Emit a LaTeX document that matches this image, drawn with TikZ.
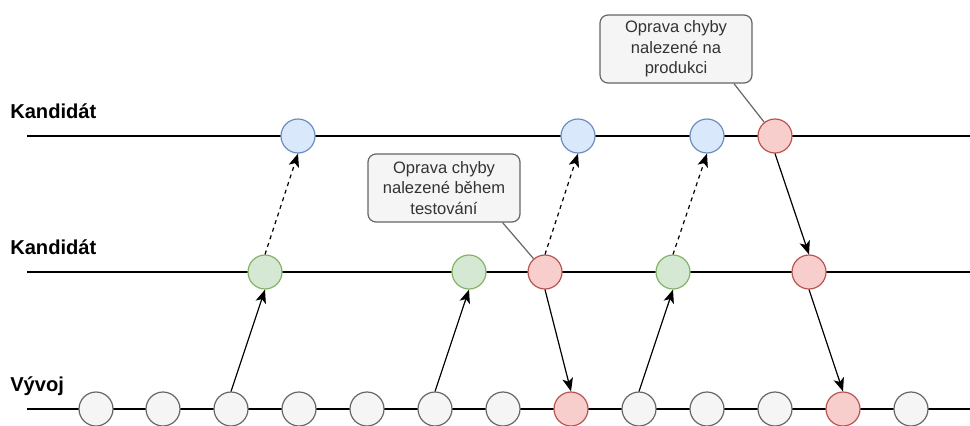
\documentclass[tikz,border=0pt]{standalone}
\usepackage{fontspec}
\setmainfont{Liberation Sans}
\usetikzlibrary{arrows.meta}
\definecolor{grayfill}{HTML}{F5F5F5}
\definecolor{graydraw}{HTML}{666666}
\definecolor{bluefill}{HTML}{DAE8FC}
\definecolor{bluedraw}{HTML}{6C8EBF}
\definecolor{greenfill}{HTML}{D5E8D4}
\definecolor{greendraw}{HTML}{82B366}
\definecolor{redfill}{HTML}{F8CECC}
\definecolor{reddraw}{HTML}{B85450}
\definecolor{notetext}{HTML}{333333}
\tikzset{
  commit/.style={circle, minimum size=25.5pt, inner sep=0pt, line width=0.9pt},
  devc/.style={commit, fill=grayfill, draw=graydraw},
  candc/.style={commit, fill=greenfill, draw=greendraw},
  relc/.style={commit, fill=bluefill, draw=bluedraw},
  fixc/.style={commit, fill=redfill, draw=reddraw},
  branch/.style={line width=0.9pt, black},
  lanelabel/.style={anchor=base west, inner sep=0pt, font=\fontsize{15.1pt}{18pt}\selectfont\bfseries},
  note/.style={draw=graydraw, fill=grayfill, text=notetext, rounded corners=6pt, line width=0.9pt,
    minimum width=114pt, minimum height=51pt, align=center, inner sep=2pt,
    font=\fontsize{12.4pt}{15.5pt}\selectfont},
  notelink/.style={draw=graydraw, line width=0.9pt},
  merge/.style={line width=0.9pt, -{Stealth[length=10pt, width=8pt, inset=2.5pt]}},
  promote/.style={merge, dash pattern=on 3pt off 3pt},
}
\begin{document}
\begin{tikzpicture}[x=0.75pt, y=-0.75pt]
\useasboundingbox (0,0) rectangle (970,425);

% branch lines
\coordinate (t0) at (27,136);  \coordinate (t1) at (970,136);
\coordinate (m0) at (27,272);  \coordinate (m1) at (970,272);
\coordinate (b0) at (27,409);  \coordinate (b1) at (970,409);
\coordinate (bs) at (402,409); \coordinate (be) at (758,409);
\draw[branch] (t0) -- (t1);
\draw[branch] (m0) -- (m1);
\draw[branch] (b0) -- (b1);
\draw[line width=1.6pt] (bs) -- (be);

% lane labels
\node[lanelabel] (l1) at (10,118) {Kandidát};
\node[lanelabel] (l2) at (10,254.5) {Kandidát};
\node[lanelabel] (l3) at (10,391) {Vývoj};

% development commits
\node[devc] (d1) at (96,409) {};
\node[devc] (d2) at (163,409) {};
\node[devc] (d3) at (231,409) {};
\node[devc] (d4) at (299,409) {};
\node[devc] (d5) at (367,409) {};
\node[devc] (d6) at (435,409) {};
\node[devc] (d7) at (503,409) {};
\node[fixc] (d8) at (571,409) {};
\node[devc] (d9) at (639,409) {};
\node[devc] (d10) at (707,409) {};
\node[devc] (d11) at (775,409) {};
\node[fixc] (d12) at (843,409) {};
\node[devc] (d13) at (911,409) {};

% candidate commits
\node[candc] (c1) at (265,272) {};
\node[candc] (c2) at (469,272) {};
\node[fixc]  (c3) at (545,272) {};
\node[candc] (c4) at (673,272) {};
\node[fixc]  (c5) at (809,272) {};

% release commits
\node[relc] (r1) at (298,136) {};
\node[relc] (r2) at (578,136) {};
\node[relc] (r3) at (707,136) {};
\node[fixc] (r4) at (775,136) {};

% merges between lanes
\draw[merge] (d3.north) -- (c1.south);
\draw[merge] (d6.north) -- (c2.south);
\draw[merge] (c3.south) -- (d8.north);
\draw[merge] (d9.north) -- (c4.south);
\draw[merge] (r4.south) -- (c5.north);
\draw[merge] (c5.south) -- (d12.north);
\draw[promote] (c1.north) -- (r1.south);
\draw[promote] (c3.north) -- (r2.south);
\draw[promote] (c4.north) -- (r3.south);

% notes
\node[note] (n1) at (444,188) {Oprava chyby\\nalezené během\\testování};
\node[note] (n2) at (676,49) {Oprava chyby\\nalezené na\\produkci};
\draw[notelink] ([xshift=-13.5pt]n1.south east) -- (c3);
\draw[notelink] ([xshift=-14pt]n2.south east) -- (r4);
\end{tikzpicture}
\end{document}
